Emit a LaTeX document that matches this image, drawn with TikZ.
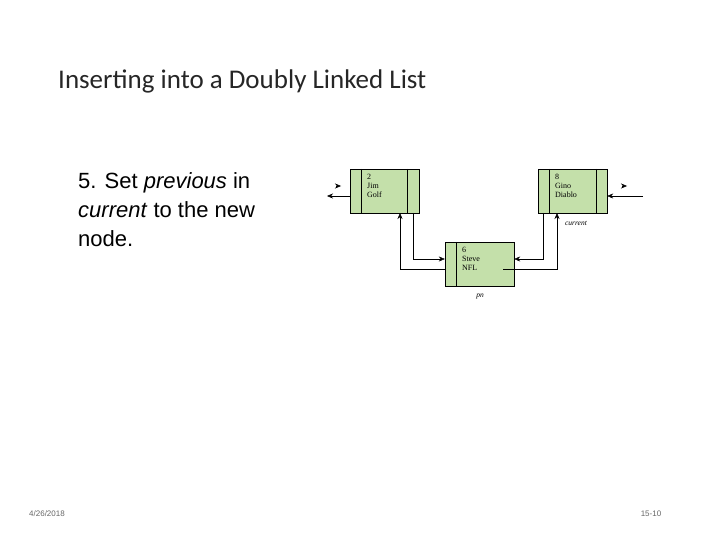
\documentclass[tikz,border=0pt]{standalone}
\usepackage{fontspec}
\setmainfont{Liberation Serif}
\newfontfamily\titlefont{Carlito}
\newfontfamily\bodyfont{Liberation Sans}
\usetikzlibrary{arrows.meta}
\definecolor{nodegreen}{RGB}{196,224,170}
\tikzset{
  cell/.style={draw,fill=nodegreen,minimum width=69pt,minimum height=44pt,inner sep=0pt},
  link/.style={-{Stealth[length=6pt,width=5pt]}},
  tag/.style={font=\fontsize{7.5}{8}\selectfont\itshape}
}
\begin{document}
\begin{tikzpicture}[x=1pt,y=-1pt]
	\useasboundingbox (0,0) rectangle (720,540);
	\node[anchor=west,inner sep=0pt,font=\titlefont\fontsize{27}{30}\selectfont,text=black!85] (title) at (58,81) {Inserting into a Doubly Linked List};
	\node[anchor=north west,inner sep=0pt,align=left,font=\bodyfont\fontsize{22}{29}\selectfont] (step) at (78,172) {5. Set \textit{previous} in\\ \textit{current} to the new\\ node.};
	
	\node[cell] (jim) at (384.5,191) {};
	\node[cell] (steve) at (479.5,264) {};
	\node[cell] (gino) at (572.5,191) {};
	\draw ([xshift=11pt]jim.north west) -- ([xshift=11pt]jim.south west);
	\draw ([xshift=-12pt]jim.north east) -- ([xshift=-12pt]jim.south east);
	\draw ([xshift=11pt]gino.north west) -- ([xshift=11pt]gino.south west);
	\draw ([xshift=-11pt]gino.north east) -- ([xshift=-11pt]gino.south east);
	\draw ([xshift=11pt]steve.north west) -- ([xshift=11pt]steve.south west);
	\node[anchor=north west,align=left,font=\fontsize{8}{9}\selectfont,inner sep=0pt] (jimtxt) at (367,174) {2\\Jim\\Golf};
	\node[anchor=north west,align=left,font=\fontsize{8}{9}\selectfont,inner sep=0pt] (ginotxt) at (555,174) {8\\Gino\\Diablo};
	\node[anchor=north west,align=left,font=\fontsize{8}{9}\selectfont,inner sep=0pt] (stevetxt) at (462,247) {6\\Steve\\NFL};
	\node[tag] (current) at (576,223) {current};
	\node[tag] (pn) at (480,297) {pn};
	
	\coordinate (leftend) at (327,196);
	\coordinate (rightend) at (643,196);
	\draw[link] (jim.west |- leftend) -- (leftend);
	\draw[link] (rightend) -- (gino.east |- rightend);
	\draw[-{Stealth[length=6pt,width=5pt]}] (336,186) -- (341,186);
	\draw[-{Stealth[length=6pt,width=5pt]}] (622,186) -- (627,186);
	
	\draw[link] (413,213) -- (413,259) -- (steve.west |- 0,259);
	\draw[link] (steve.west |- 0,269) -- (400,269) -- (400,213);
	\draw[link] (543,213) -- (543,259) -- (steve.east |- 0,259);
	\draw[link] (503,269) -- (557,269) -- (557,213);
	
	\node[font=\bodyfont\fontsize{8}{9}\selectfont,text=black!60] (date) at (47,514) {4/26/2018};
	\node[font=\bodyfont\fontsize{8}{9}\selectfont,text=black!60] (page) at (651,514) {15-10};
\end{tikzpicture}
\end{document}
